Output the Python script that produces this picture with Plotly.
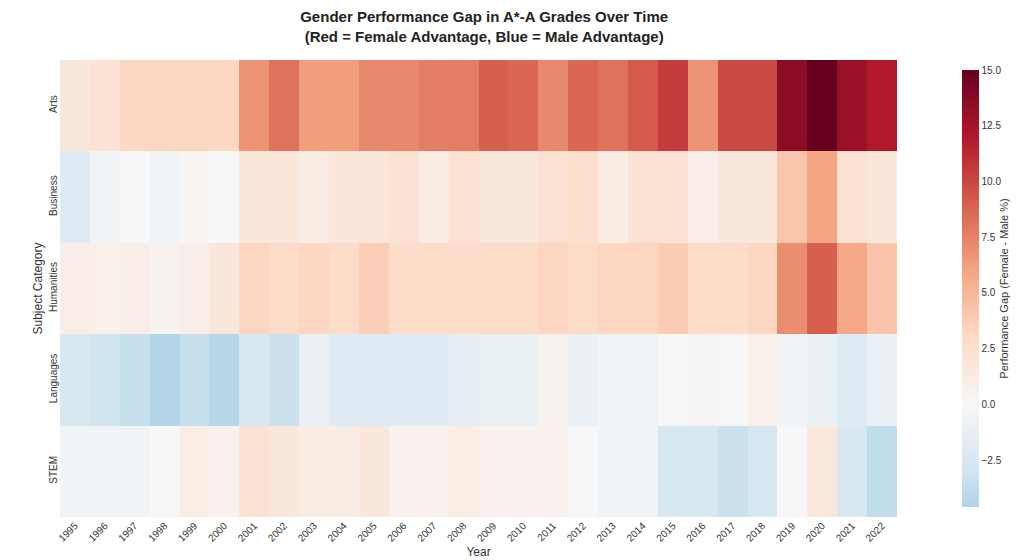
import plotly.graph_objects as go

years = [str(y) for y in range(1995, 2023)]
subjects = ["Arts", "Business", "Humanities", "Languages", "STEM"]

arts = [1.7, 2.2, 3.2, 3.2, 3.2, 3.2, 6.8, 8.2, 6.3, 6.3, 7.2, 7.2, 7.7, 7.7, 9, 8.7, 7.2, 8.7, 8.2, 9.2, 10.5, 6.8, 10, 10, 13.5, 15, 13, 12]
business = [-2, -0.5, 0, -0.5, 0.3, 0, 1.8, 1.8, 1.2, 1.8, 1.8, 2.2, 1.2, 2.2, 1.7, 1.7, 2.2, 2.6, 1.2, 2.2, 2.2, 1, 1.7, 1.7, 4.2, 6, 2.2, 1.8]
humanities = [1, 0.8, 1, 0.5, 1, 1.7, 3.3, 2.8, 3.3, 2.8, 3.7, 2.8, 2.8, 2.8, 2.8, 2.8, 3.3, 2.8, 3.3, 3.3, 3.8, 2.8, 2.8, 3.3, 7, 9, 5.8, 4.3]
languages = [-2.5, -3, -3.5, -4.5, -3.5, -4.3, -2.5, -3.3, -1, -2, -2, -2, -2, -1.5, -1.2, -1.2, 0.5, -1, -0.5, -0.7, 0, 0.2, 0, 0.8, -0.5, -1, -2, -1]
stem = [-0.5, -0.5, -0.5, 0, 1.1, 0.6, 2.2, 1.7, 1.2, 1.2, 1.7, 0.6, 0.6, 1.1, 0.6, 0.6, 0.6, 0, -0.5, -0.5, -2.5, -2.5, -3.3, -2.7, 0, 1.6, -2.5, -3.8]

zmin, zmax = -4.6, 15
# RdBu_r centred at zero, truncated to the data range
stops = [(-4.6, "rgb(175,212,230)"), (-3, "#d1e5f0"), (0, "#f7f7f7"), (3, "#fddbc7"),
         (6, "#f4a582"), (9, "#d6604d"), (12, "#b2182b"), (15, "#67001f")]
colorscale = [[(v - zmin) / (zmax - zmin), c] for v, c in stops]

fig = go.Figure(go.Heatmap(
    z=[arts, business, humanities, languages, stem],
    x=years, y=subjects,
    zmin=zmin, zmax=zmax, colorscale=colorscale,
    colorbar=dict(
        title=dict(text="Performance Gap (Female - Male %)", side="right", font=dict(size=11)),
        tickvals=[-2.5, 0, 2.5, 5, 7.5, 10, 12.5, 15],
        ticktext=["−2.5", "0.0", "2.5", "5.0", "7.5", "10.0", "12.5", "15.0"],
        tickfont=dict(size=10), thickness=17, len=1.0, y=0.5,
        x=1.066, xanchor="left", outlinewidth=0,
    ),
))

fig.update_layout(
    width=1024, height=560,
    font=dict(family="Liberation Sans, Arial, sans-serif", color="#333"),
    title=dict(text="<b>Gender Performance Gap in A*-A Grades Over Time<br>(Red = Female Advantage, Blue = Male Advantage)</b>",
               x=0.465, xanchor="center", y=0.975, font=dict(size=15, color="#222")),
    margin=dict(l=52, r=122, t=52, b=48),
    plot_bgcolor="white", paper_bgcolor="white",
    xaxis=dict(title=dict(text="Year", font=dict(size=12), standoff=4), tickangle=-45,
               tickfont=dict(size=10), showgrid=False),
    yaxis=dict(title=dict(text="Subject Category", font=dict(size=12), standoff=2),
               autorange="reversed", tickangle=-90, tickfont=dict(size=10), showgrid=False),
)

fig.write_html("out.html")
